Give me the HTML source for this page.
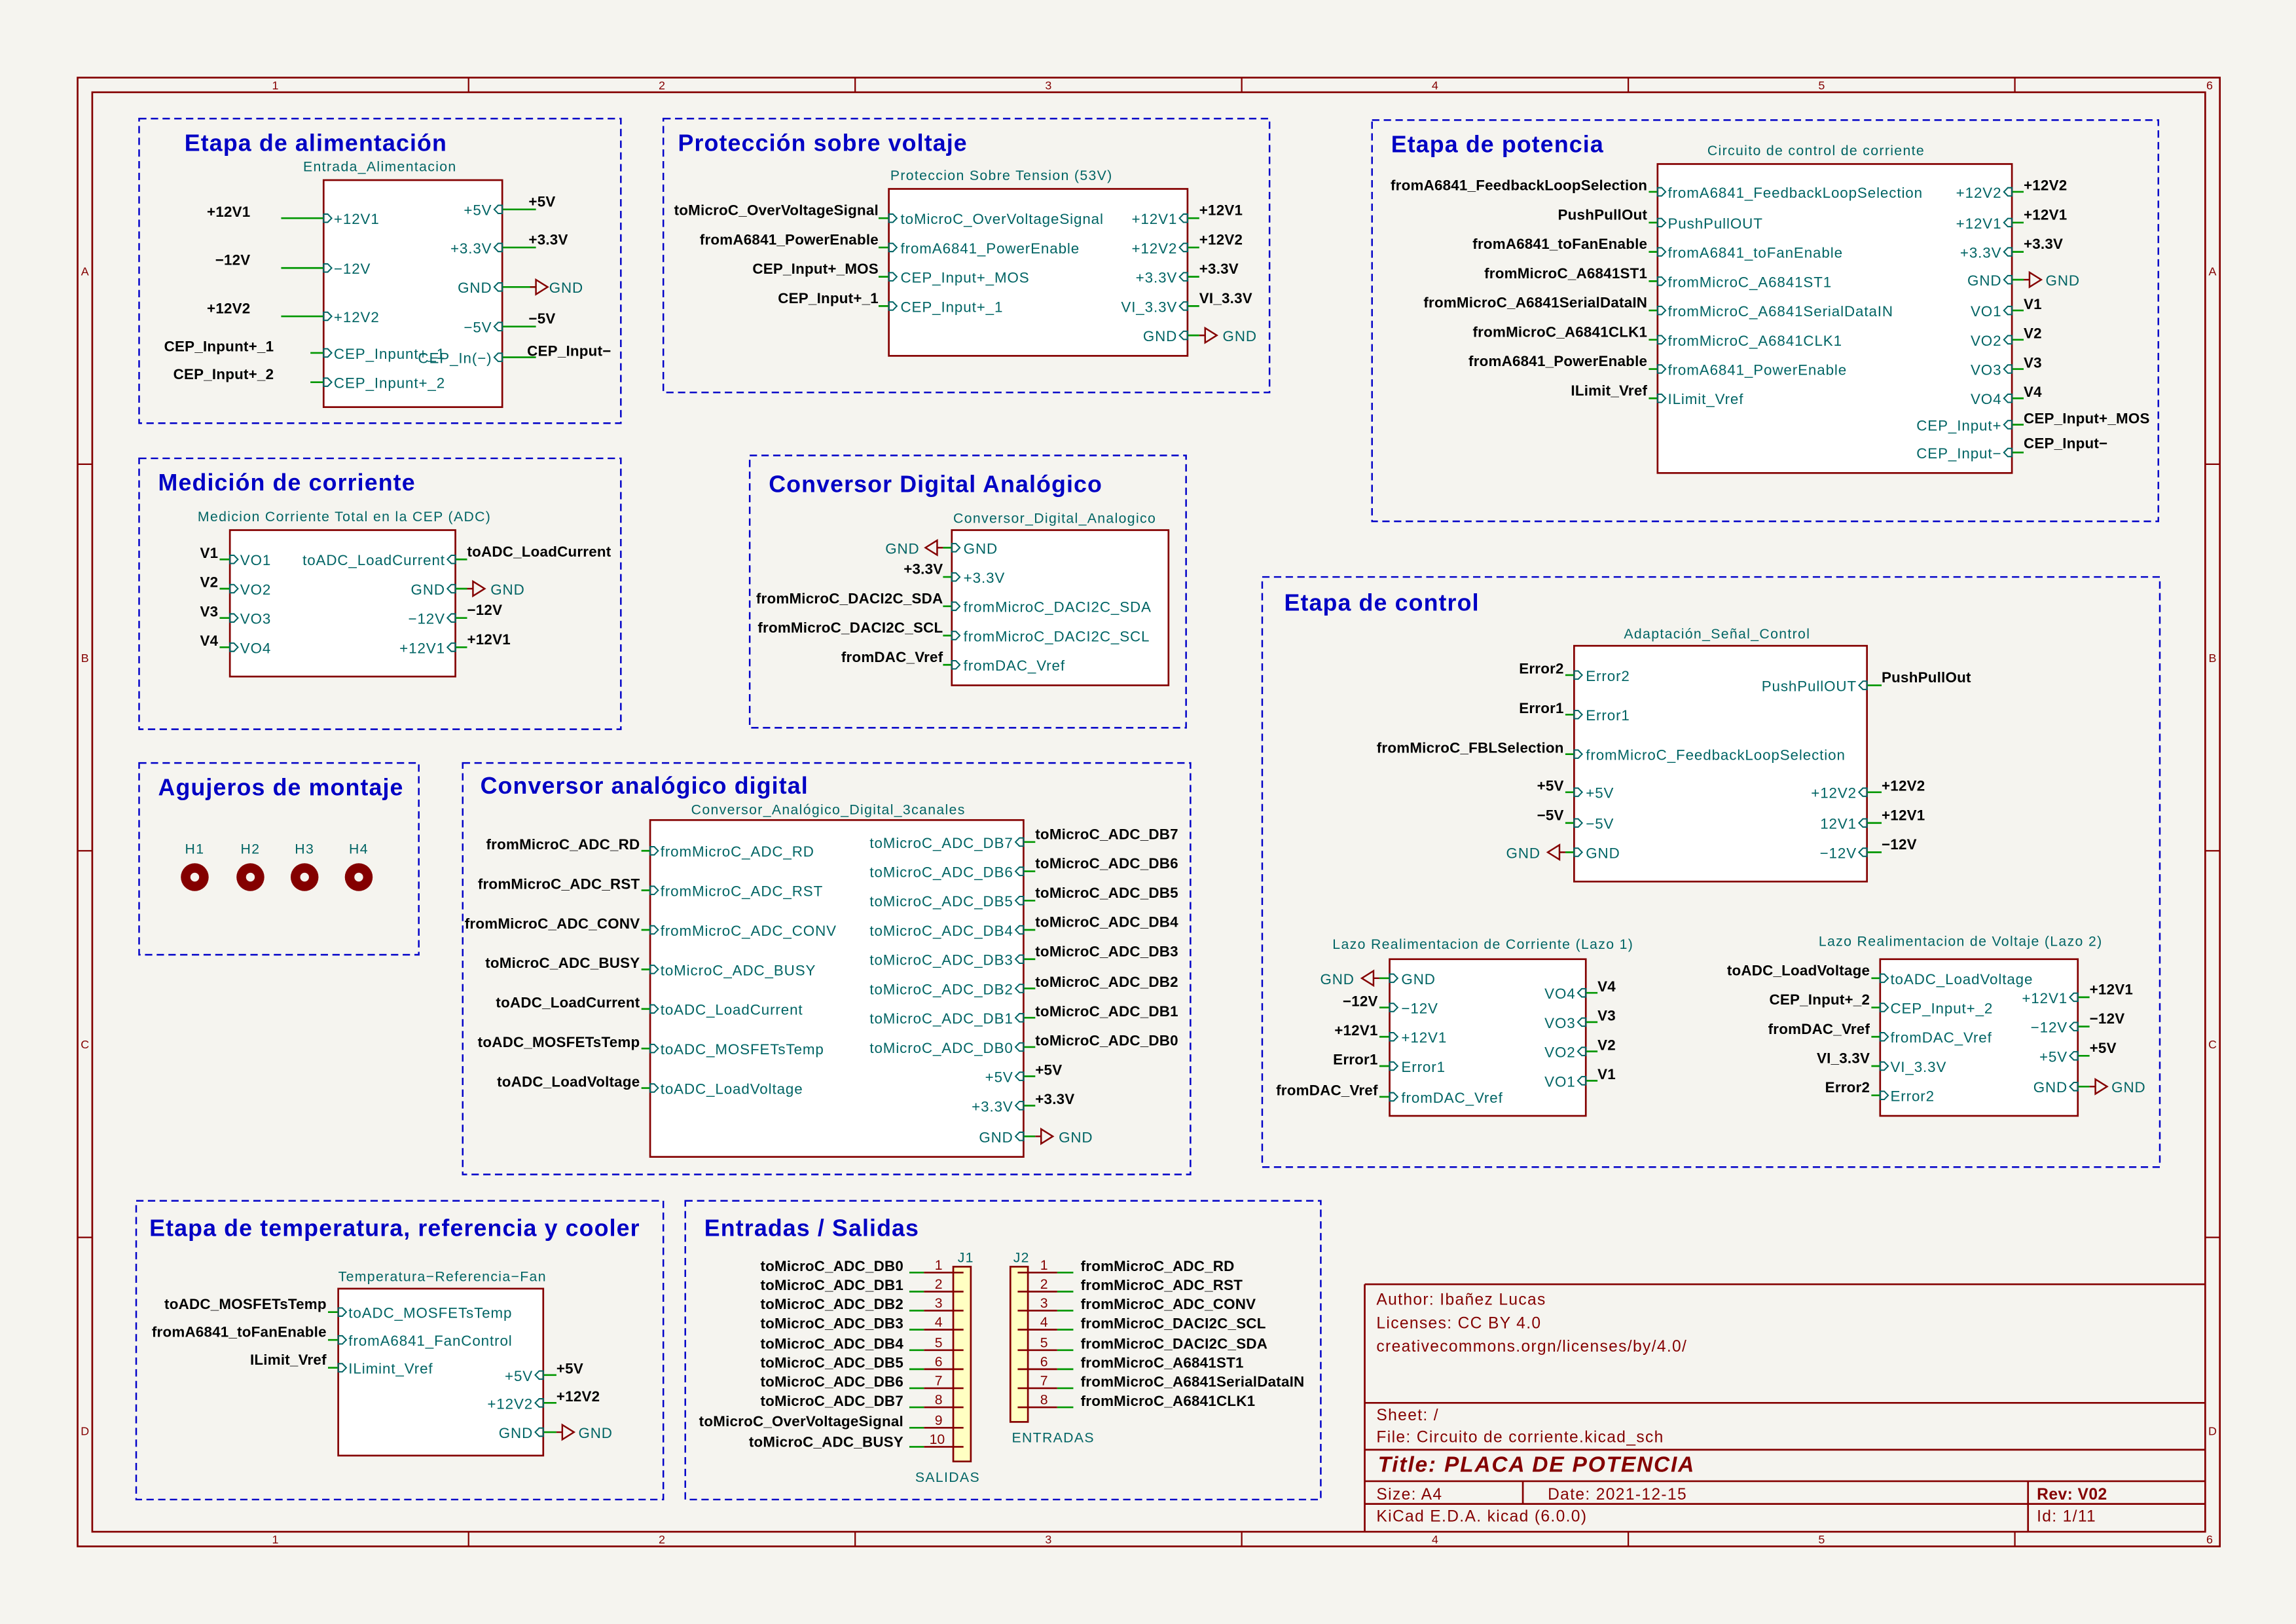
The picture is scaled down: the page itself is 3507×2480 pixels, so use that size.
<!DOCTYPE html>
<html><head><meta charset="utf-8"><style>
html,body{margin:0;padding:0;background:#f5f4ef;}
svg{display:block;}
text{font-family:"Liberation Sans Narrow","Liberation Sans",sans-serif;}
.p{fill:#006464;font-size:10px;letter-spacing:0.4px;}
.n{fill:#000;font-size:10px;font-weight:bold;letter-spacing:0.1px;}
.t{fill:#0000c4;font-size:16px;font-weight:bold;letter-spacing:0.5px;}
.s{fill:#006464;font-size:9.5px;letter-spacing:0.6px;}
.f{fill:#840000;font-size:11px;letter-spacing:0.6px;}
.d{fill:none;stroke:#0000c8;stroke-width:1.1;stroke-dasharray:5,3;}
.b{fill:#fff;stroke:#840000;stroke-width:1.2;}
.w{stroke:#009600;stroke-width:1.2;}
.r{stroke:#840000;stroke-width:1.2;}
.e{text-anchor:end;}
</style></head><body>
<svg width="3507" height="2480" viewBox="0 0 1568 1109" preserveAspectRatio="none" xmlns="http://www.w3.org/2000/svg">
<defs>
<path id="L" d="M0,-2.8h2.8l2.7,2.8l-2.7,2.8h-2.8z" fill="none" stroke="#006464" stroke-width="0.9"/>
<path id="R" d="M0,-2.8h-2.8l-2.7,2.8l2.7,2.8h2.8z" fill="none" stroke="#006464" stroke-width="0.9"/>
<path id="G" d="M0,0h4M4,-5l8,5l-8,5z" fill="none" stroke="#840000" stroke-width="1.1"/>
<path id="GL" d="M0,0h-4M-4,-5l-8,5l8,5z" fill="none" stroke="#840000" stroke-width="1.1"/>
</defs>
<rect width="1568" height="1109" fill="#f5f4ef"/>
<!-- frame -->
<rect x="53" y="53" width="1463" height="1003" fill="none" stroke="#840000" stroke-width="1.2"/>
<rect x="63" y="63" width="1443" height="983" fill="none" stroke="#840000" stroke-width="1.2"/>
<g stroke="#840000" stroke-width="1">
<path d="M320,53v10M584,53v10M848,53v10M1112,53v10M1376,53v10M320,1046v10M584,1046v10M848,1046v10M1112,1046v10M1376,1046v10M53,317h10M53,581h10M53,845h10M1506,317h10M1506,581h10M1506,845h10"/>
</g>
<g class="f" style="font-size:8px;letter-spacing:0" text-anchor="middle">
<text x="188" y="61">1</text><text x="452" y="61">2</text><text x="716" y="61">3</text><text x="980" y="61">4</text><text x="1244" y="61">5</text><text x="1509" y="61">6</text>
<text x="188" y="1054">1</text><text x="452" y="1054">2</text><text x="716" y="1054">3</text><text x="980" y="1054">4</text><text x="1244" y="1054">5</text><text x="1509" y="1054">6</text>
<text x="58" y="188">A</text><text x="58" y="452">B</text><text x="58" y="716">C</text><text x="58" y="980">D</text>
<text x="1511" y="188">A</text><text x="1511" y="452">B</text><text x="1511" y="716">C</text><text x="1511" y="980">D</text>
</g>
<!-- title block -->
<g stroke="#840000" stroke-width="1.2" fill="none">
<path d="M932,877H1506M932,958H1506M932,990H1506M932,1011.5H1506M932,1027H1506M932,877V1046M1040,1011.5V1027M1385,1011.5V1046"/>
</g>
<g class="f">
<text x="940" y="891">Author: Ibañez Lucas</text>
<text x="940" y="907">Licenses: CC BY 4.0</text>
<text x="940" y="923">creativecommons.orgn/licenses/by/4.0/</text>
<text x="940" y="970">Sheet: /</text>
<text x="940" y="985">File: Circuito de corriente.kicad_sch</text>
<text x="941" y="1005" style="font-size:15px;font-weight:bold;font-style:italic;letter-spacing:0.8px">Title: PLACA DE POTENCIA</text>
<text x="940" y="1024">Size: A4</text>
<text x="1057" y="1024">Date: 2021-12-15</text>
<text x="1391" y="1024" style="font-weight:bold;font-size:11px;letter-spacing:0.2px">Rev: V02</text>
<text x="940" y="1039">KiCad E.D.A.  kicad (6.0.0)</text>
<text x="1391" y="1039">Id: 1/11</text>
</g>

<!-- ===== Section 1: Etapa de alimentacion ===== -->
<rect class="d" x="95" y="81" width="329" height="208"/>
<text class="t" x="126" y="103">Etapa de alimentación</text>
<text class="s" x="207" y="117">Entrada_Alimentacion</text>
<rect class="b" x="221" y="123" width="122" height="155"/>
<path class="w" d="M192,149H221M192,183H221M192,216H221M212,241H221M212,261H221M343,143H366M343,169H366M343,196H366M343,223H366M343,244H366"/>
<g class="n e">
<text x="171" y="148">+12V1</text><text x="171" y="181">−12V</text><text x="171" y="214">+12V2</text>
<text x="187" y="240">CEP_Inpunt+_1</text><text x="187" y="259">CEP_Input+_2</text>
</g>
<use href="#L" x="221" y="149"/><use href="#L" x="221" y="183"/><use href="#L" x="221" y="216"/><use href="#L" x="221" y="241"/><use href="#L" x="221" y="261"/>
<g class="p"><text x="228" y="153">+12V1</text><text x="228" y="187">−12V</text><text x="228" y="220">+12V2</text><text x="228" y="245">CEP_Inpunt+_1</text><text x="228" y="265">CEP_Inpunt+_2</text></g>
<use href="#R" x="343" y="143"/><use href="#R" x="343" y="169"/><use href="#R" x="343" y="196"/><use href="#R" x="343" y="223"/><use href="#R" x="343" y="244"/>
<g class="p e"><text x="336" y="147">+5V</text><text x="336" y="173">+3.3V</text><text x="336" y="200">GND</text><text x="336" y="227">−5V</text><text x="336" y="248">CEP_In(−)</text></g>
<g class="n"><text x="361" y="141">+5V</text><text x="361" y="167">+3.3V</text><text x="361" y="221">−5V</text><text x="360" y="243">CEP_Input−</text></g>
<use href="#G" x="362" y="196"/><text class="p" x="375" y="200">GND</text>

<!-- ===== Section 2: Proteccion ===== -->
<rect class="d" x="453" y="81" width="414" height="187"/>
<text class="t" x="463" y="103">Protección sobre voltaje</text>
<text class="s" x="608" y="123">Proteccion Sobre Tension (53V)</text>
<rect class="b" x="607" y="129" width="204" height="114"/>
<path class="w" d="M600,149H607M600,169H607M600,189H607M600,209H607M811,149H819M811,169H819M811,189H819M811,209H819M811,229H819"/>
<g class="n e"><text x="600" y="147">toMicroC_OverVoltageSignal</text><text x="600" y="167">fromA6841_PowerEnable</text><text x="600" y="187">CEP_Input+_MOS</text><text x="600" y="207">CEP_Input+_1</text></g>
<use href="#L" x="607" y="149"/><use href="#L" x="607" y="169"/><use href="#L" x="607" y="189"/><use href="#L" x="607" y="209"/>
<g class="p"><text x="615" y="153">toMicroC_OverVoltageSignal</text><text x="615" y="173">fromA6841_PowerEnable</text><text x="615" y="193">CEP_Input+_MOS</text><text x="615" y="213">CEP_Input+_1</text></g>
<use href="#R" x="811" y="149"/><use href="#R" x="811" y="169"/><use href="#R" x="811" y="189"/><use href="#R" x="811" y="209"/><use href="#R" x="811" y="229"/>
<g class="p e"><text x="804" y="153">+12V1</text><text x="804" y="173">+12V2</text><text x="804" y="193">+3.3V</text><text x="804" y="213">VI_3.3V</text><text x="804" y="233">GND</text></g>
<g class="n"><text x="819" y="147">+12V1</text><text x="819" y="167">+12V2</text><text x="819" y="187">+3.3V</text><text x="819" y="207">VI_3.3V</text></g>
<use href="#G" x="819" y="229"/><text class="p" x="835" y="233">GND</text>

<!-- ===== Section 3: Etapa de potencia ===== -->
<rect class="d" x="937" y="82" width="537" height="274"/>
<text class="t" x="950" y="104">Etapa de potencia</text>
<text class="s" x="1166" y="106">Circuito de control de corriente</text>
<rect class="b" x="1132" y="112" width="242" height="211"/>
<path class="w" d="M1126,131H1132M1126,152H1132M1126,172H1132M1126,192H1132M1126,212H1132M1126,232H1132M1126,252H1132M1126,272H1132M1374,131H1382M1374,152H1382M1374,172H1382M1374,191H1382M1374,212H1382M1374,232H1382M1374,252H1382M1374,272H1382M1374,290H1382M1374,309H1382"/>
<g class="n e"><text x="1125" y="130">fromA6841_FeedbackLoopSelection</text><text x="1125" y="150">PushPullOut</text><text x="1125" y="170">fromA6841_toFanEnable</text><text x="1125" y="190">fromMicroC_A6841ST1</text><text x="1125" y="210">fromMicroC_A6841SerialDataIN</text><text x="1125" y="230">fromMicroC_A6841CLK1</text><text x="1125" y="250">fromA6841_PowerEnable</text><text x="1125" y="270">ILimit_Vref</text></g>
<use href="#L" x="1132" y="131"/><use href="#L" x="1132" y="152"/><use href="#L" x="1132" y="172"/><use href="#L" x="1132" y="192"/><use href="#L" x="1132" y="212"/><use href="#L" x="1132" y="232"/><use href="#L" x="1132" y="252"/><use href="#L" x="1132" y="272"/>
<g class="p"><text x="1139" y="135">fromA6841_FeedbackLoopSelection</text><text x="1139" y="156">PushPullOUT</text><text x="1139" y="176">fromA6841_toFanEnable</text><text x="1139" y="196">fromMicroC_A6841ST1</text><text x="1139" y="216">fromMicroC_A6841SerialDataIN</text><text x="1139" y="236">fromMicroC_A6841CLK1</text><text x="1139" y="256">fromA6841_PowerEnable</text><text x="1139" y="276">ILimit_Vref</text></g>
<use href="#R" x="1374" y="131"/><use href="#R" x="1374" y="152"/><use href="#R" x="1374" y="172"/><use href="#R" x="1374" y="191"/><use href="#R" x="1374" y="212"/><use href="#R" x="1374" y="232"/><use href="#R" x="1374" y="252"/><use href="#R" x="1374" y="272"/><use href="#R" x="1374" y="290"/><use href="#R" x="1374" y="309"/>
<g class="p e"><text x="1367" y="135">+12V2</text><text x="1367" y="156">+12V1</text><text x="1367" y="176">+3.3V</text><text x="1367" y="195">GND</text><text x="1367" y="216">VO1</text><text x="1367" y="236">VO2</text><text x="1367" y="256">VO3</text><text x="1367" y="276">VO4</text><text x="1367" y="294">CEP_Input+</text><text x="1367" y="313">CEP_Input−</text></g>
<g class="n"><text x="1382" y="130">+12V2</text><text x="1382" y="150">+12V1</text><text x="1382" y="170">+3.3V</text><text x="1382" y="211">V1</text><text x="1382" y="231">V2</text><text x="1382" y="251">V3</text><text x="1382" y="271">V4</text><text x="1382" y="289">CEP_Input+_MOS</text><text x="1382" y="306">CEP_Input−</text></g>
<use href="#G" x="1382" y="191"/><text class="p" x="1397" y="195">GND</text>

<!-- ===== Section 4: Medicion ===== -->
<rect class="d" x="95" y="313" width="329" height="185"/>
<text class="t" x="108" y="335">Medición de corriente</text>
<text class="s" x="135" y="356">Medicion Corriente Total en la CEP (ADC)</text>
<rect class="b" x="157" y="362" width="154" height="100"/>
<path class="w" d="M150,382H157M150,402H157M150,422H157M150,442H157M311,382H319M311,402H319M311,422H319M311,442H319"/>
<g class="n e"><text x="149" y="381">V1</text><text x="149" y="401">V2</text><text x="149" y="421">V3</text><text x="149" y="441">V4</text></g>
<use href="#L" x="157" y="382"/><use href="#L" x="157" y="402"/><use href="#L" x="157" y="422"/><use href="#L" x="157" y="442"/>
<g class="p"><text x="164" y="386">VO1</text><text x="164" y="406">VO2</text><text x="164" y="426">VO3</text><text x="164" y="446">VO4</text></g>
<use href="#R" x="311" y="382"/><use href="#R" x="311" y="402"/><use href="#R" x="311" y="422"/><use href="#R" x="311" y="442"/>
<g class="p e"><text x="304" y="386">toADC_LoadCurrent</text><text x="304" y="406">GND</text><text x="304" y="426">−12V</text><text x="304" y="446">+12V1</text></g>
<g class="n"><text x="319" y="380">toADC_LoadCurrent</text><text x="319" y="420">−12V</text><text x="319" y="440">+12V1</text></g>
<use href="#G" x="319" y="402"/><text class="p" x="335" y="406">GND</text>

<!-- ===== Section 5: DAC ===== -->
<rect class="d" x="512" y="311" width="298" height="186"/>
<text class="t" x="525" y="336">Conversor Digital Analógico</text>
<text class="s" x="651" y="357">Conversor_Digital_Analogico</text>
<rect class="b" x="650" y="362" width="148" height="106"/>
<path class="w" d="M644,374H650M644,394H650M644,414H650M644,434H650M644,454H650"/>
<use href="#GL" x="644" y="374"/><text class="p e" x="628" y="378">GND</text>
<g class="n e"><text x="644" y="392">+3.3V</text><text x="644" y="412">fromMicroC_DACI2C_SDA</text><text x="644" y="432">fromMicroC_DACI2C_SCL</text><text x="644" y="452">fromDAC_Vref</text></g>
<use href="#L" x="650" y="374"/><use href="#L" x="650" y="394"/><use href="#L" x="650" y="414"/><use href="#L" x="650" y="434"/><use href="#L" x="650" y="454"/>
<g class="p"><text x="658" y="378">GND</text><text x="658" y="398">+3.3V</text><text x="658" y="418">fromMicroC_DACI2C_SDA</text><text x="658" y="438">fromMicroC_DACI2C_SCL</text><text x="658" y="458">fromDAC_Vref</text></g>

<!-- ===== Section 6: Agujeros ===== -->
<rect class="d" x="95" y="521" width="191" height="131"/>
<text class="t" x="108" y="543">Agujeros de montaje</text>
<g class="s" text-anchor="middle"><text x="133" y="583">H1</text><text x="171" y="583">H2</text><text x="208" y="583">H3</text><text x="245" y="583">H4</text></g>
<g fill="#840000"><circle cx="133" cy="599" r="9.5"/><circle cx="171" cy="599" r="9.5"/><circle cx="208" cy="599" r="9.5"/><circle cx="245" cy="599" r="9.5"/></g>
<g fill="#f5f4ef"><circle cx="133" cy="599" r="3"/><circle cx="171" cy="599" r="3"/><circle cx="208" cy="599" r="3"/><circle cx="245" cy="599" r="3"/></g>

<!-- ===== Section 7: ADC ===== -->
<rect class="d" x="316" y="521" width="497" height="281"/>
<text class="t" x="328" y="542">Conversor analógico digital</text>
<text class="s" x="472" y="556">Conversor_Analógico_Digital_3canales</text>
<rect class="b" x="444" y="560" width="255" height="230"/>
<path class="w" d="M438,581H444M438,608H444M438,635H444M438,662H444M438,689H444M438,716H444M438,743H444M699,575H707M699,595H707M699,615H707M699,635H707M699,655H707M699,675H707M699,695H707M699,715H707M699,735H707M699,755H707M699,776H707"/>
<g class="n e"><text x="437" y="580">fromMicroC_ADC_RD</text><text x="437" y="607">fromMicroC_ADC_RST</text><text x="437" y="634">fromMicroC_ADC_CONV</text><text x="437" y="661">toMicroC_ADC_BUSY</text><text x="437" y="688">toADC_LoadCurrent</text><text x="437" y="715">toADC_MOSFETsTemp</text><text x="437" y="742">toADC_LoadVoltage</text></g>
<use href="#L" x="444" y="581"/><use href="#L" x="444" y="608"/><use href="#L" x="444" y="635"/><use href="#L" x="444" y="662"/><use href="#L" x="444" y="689"/><use href="#L" x="444" y="716"/><use href="#L" x="444" y="743"/>
<g class="p"><text x="451" y="585">fromMicroC_ADC_RD</text><text x="451" y="612">fromMicroC_ADC_RST</text><text x="451" y="639">fromMicroC_ADC_CONV</text><text x="451" y="666">toMicroC_ADC_BUSY</text><text x="451" y="693">toADC_LoadCurrent</text><text x="451" y="720">toADC_MOSFETsTemp</text><text x="451" y="747">toADC_LoadVoltage</text></g>
<use href="#R" x="699" y="575"/><use href="#R" x="699" y="595"/><use href="#R" x="699" y="615"/><use href="#R" x="699" y="635"/><use href="#R" x="699" y="655"/><use href="#R" x="699" y="675"/><use href="#R" x="699" y="695"/><use href="#R" x="699" y="715"/><use href="#R" x="699" y="735"/><use href="#R" x="699" y="755"/><use href="#R" x="699" y="776"/>
<g class="p e"><text x="692" y="579">toMicroC_ADC_DB7</text><text x="692" y="599">toMicroC_ADC_DB6</text><text x="692" y="619">toMicroC_ADC_DB5</text><text x="692" y="639">toMicroC_ADC_DB4</text><text x="692" y="659">toMicroC_ADC_DB3</text><text x="692" y="679">toMicroC_ADC_DB2</text><text x="692" y="699">toMicroC_ADC_DB1</text><text x="692" y="719">toMicroC_ADC_DB0</text><text x="692" y="739">+5V</text><text x="692" y="759">+3.3V</text><text x="692" y="780">GND</text></g>
<g class="n"><text x="707" y="573">toMicroC_ADC_DB7</text><text x="707" y="593">toMicroC_ADC_DB6</text><text x="707" y="613">toMicroC_ADC_DB5</text><text x="707" y="633">toMicroC_ADC_DB4</text><text x="707" y="653">toMicroC_ADC_DB3</text><text x="707" y="674">toMicroC_ADC_DB2</text><text x="707" y="694">toMicroC_ADC_DB1</text><text x="707" y="714">toMicroC_ADC_DB0</text><text x="707" y="734">+5V</text><text x="707" y="754">+3.3V</text></g>
<use href="#G" x="707" y="776"/><text class="p" x="723" y="780">GND</text>

<!-- ===== Section 8: Etapa de control ===== -->
<rect class="d" x="862" y="394" width="613" height="403"/>
<text class="t" x="877" y="417">Etapa de control</text>
<text class="s" x="1109" y="436">Adaptación_Señal_Control</text>
<rect class="b" x="1075" y="441" width="200" height="161"/>
<path class="w" d="M1069,461H1075M1069,488H1075M1069,515H1075M1069,541H1075M1069,562H1075M1069,582H1075M1275,468H1285M1275,541H1285M1275,562H1285M1275,582H1285"/>
<g class="n e"><text x="1068" y="460">Error2</text><text x="1068" y="487">Error1</text><text x="1068" y="514">fromMicroC_FBLSelection</text><text x="1068" y="540">+5V</text><text x="1068" y="560">−5V</text></g>
<use href="#GL" x="1069" y="582"/><text class="p e" x="1052" y="586">GND</text>
<use href="#L" x="1075" y="461"/><use href="#L" x="1075" y="488"/><use href="#L" x="1075" y="515"/><use href="#L" x="1075" y="541"/><use href="#L" x="1075" y="562"/><use href="#L" x="1075" y="582"/>
<g class="p"><text x="1083" y="465">Error2</text><text x="1083" y="492">Error1</text><text x="1083" y="519">fromMicroC_FeedbackLoopSelection</text><text x="1083" y="545">+5V</text><text x="1083" y="566">−5V</text><text x="1083" y="586">GND</text></g>
<use href="#R" x="1275" y="468"/><use href="#R" x="1275" y="541"/><use href="#R" x="1275" y="562"/><use href="#R" x="1275" y="582"/>
<g class="p e"><text x="1268" y="472">PushPullOUT</text><text x="1268" y="545">+12V2</text><text x="1268" y="566">12V1</text><text x="1268" y="586">−12V</text></g>
<g class="n"><text x="1285" y="466">PushPullOut</text><text x="1285" y="540">+12V2</text><text x="1285" y="560">+12V1</text><text x="1285" y="580">−12V</text></g>

<!-- Lazo 1 -->
<text class="s" x="910" y="648">Lazo Realimentacion de Corriente (Lazo 1)</text>
<rect class="b" x="949" y="655" width="134" height="107"/>
<path class="w" d="M942,668H949M942,688H949M942,708H949M942,728H949M942,749H949M1083,678H1091M1083,698H1091M1083,718H1091M1083,738H1091"/>
<use href="#GL" x="942" y="668"/><text class="p e" x="925" y="672">GND</text>
<g class="n e"><text x="941" y="687">−12V</text><text x="941" y="707">+12V1</text><text x="941" y="727">Error1</text><text x="941" y="748">fromDAC_Vref</text></g>
<use href="#L" x="949" y="668"/><use href="#L" x="949" y="688"/><use href="#L" x="949" y="708"/><use href="#L" x="949" y="728"/><use href="#L" x="949" y="749"/>
<g class="p"><text x="957" y="672">GND</text><text x="957" y="692">−12V</text><text x="957" y="712">+12V1</text><text x="957" y="732">Error1</text><text x="957" y="753">fromDAC_Vref</text></g>
<use href="#R" x="1083" y="678"/><use href="#R" x="1083" y="698"/><use href="#R" x="1083" y="718"/><use href="#R" x="1083" y="738"/>
<g class="p e"><text x="1076" y="682">VO4</text><text x="1076" y="702">VO3</text><text x="1076" y="722">VO2</text><text x="1076" y="742">VO1</text></g>
<g class="n"><text x="1091" y="677">V4</text><text x="1091" y="697">V3</text><text x="1091" y="717">V2</text><text x="1091" y="737">V1</text></g>

<!-- Lazo 2 -->
<text class="s" x="1242" y="646">Lazo Realimentacion de Voltaje (Lazo 2)</text>
<rect class="b" x="1284" y="655" width="135" height="107"/>
<path class="w" d="M1278,668H1284M1278,688H1284M1278,708H1284M1278,728H1284M1278,748H1284M1419,681H1427M1419,701H1427M1419,721H1427M1419,742H1427"/>
<g class="n e"><text x="1277" y="666">toADC_LoadVoltage</text><text x="1277" y="686">CEP_Input+_2</text><text x="1277" y="706">fromDAC_Vref</text><text x="1277" y="726">VI_3.3V</text><text x="1277" y="746">Error2</text></g>
<use href="#L" x="1284" y="668"/><use href="#L" x="1284" y="688"/><use href="#L" x="1284" y="708"/><use href="#L" x="1284" y="728"/><use href="#L" x="1284" y="748"/>
<g class="p"><text x="1291" y="672">toADC_LoadVoltage</text><text x="1291" y="692">CEP_Input+_2</text><text x="1291" y="712">fromDAC_Vref</text><text x="1291" y="732">VI_3.3V</text><text x="1291" y="752">Error2</text></g>
<use href="#R" x="1419" y="681"/><use href="#R" x="1419" y="701"/><use href="#R" x="1419" y="721"/><use href="#R" x="1419" y="742"/>
<g class="p e"><text x="1412" y="685">+12V1</text><text x="1412" y="705">−12V</text><text x="1412" y="725">+5V</text><text x="1412" y="746">GND</text></g>
<g class="n"><text x="1427" y="679">+12V1</text><text x="1427" y="699">−12V</text><text x="1427" y="719">+5V</text></g>
<use href="#G" x="1427" y="742"/><text class="p" x="1442" y="746">GND</text>

<!-- ===== Section 9: temperatura ===== -->
<rect class="d" x="93" y="820" width="360" height="204"/>
<text class="t" x="102" y="844">Etapa de temperatura, referencia y cooler</text>
<text class="s" x="231" y="875">Temperatura−Referencia−Fan</text>
<rect class="b" x="231" y="880" width="140" height="114"/>
<path class="w" d="M224,896H231M224,915H231M224,934H231M371,939H380M371,958H380M371,978H380"/>
<g class="n e"><text x="223" y="894">toADC_MOSFETsTemp</text><text x="223" y="913">fromA6841_toFanEnable</text><text x="223" y="932">ILimit_Vref</text></g>
<use href="#L" x="231" y="896"/><use href="#L" x="231" y="915"/><use href="#L" x="231" y="934"/>
<g class="p"><text x="238" y="900">toADC_MOSFETsTemp</text><text x="238" y="919">fromA6841_FanControl</text><text x="238" y="938">ILimint_Vref</text></g>
<use href="#R" x="371" y="939"/><use href="#R" x="371" y="958"/><use href="#R" x="371" y="978"/>
<g class="p e"><text x="364" y="943">+5V</text><text x="364" y="962">+12V2</text><text x="364" y="982">GND</text></g>
<g class="n"><text x="380" y="938">+5V</text><text x="380" y="957">+12V2</text></g>
<use href="#G" x="380" y="978"/><text class="p" x="395" y="982">GND</text>

<!-- ===== Section 10: Entradas / Salidas ===== -->
<rect class="d" x="468" y="820" width="434" height="204"/>
<text class="t" x="481" y="844">Entradas / Salidas</text>
<text class="s" x="654" y="862">J1</text><text class="s" x="692" y="862">J2</text>
<rect x="651" y="865" width="12" height="133" fill="#ffffc2" stroke="#840000" stroke-width="1.2"/>
<rect x="690" y="865" width="12" height="106" fill="#ffffc2" stroke="#840000" stroke-width="1.2"/>
<g class="w">
<path d="M621,869H631M621,882H631M621,895H631M621,908H631M621,922H631M621,935H631M621,948H631M621,961H631M621,975H631M621,988H631"/>
<path d="M722,869H733M722,882H733M722,895H733M722,908H733M722,922H733M722,935H733M722,948H733M722,961H733"/>
</g>
<g class="r">
<path d="M631,869H658M631,882H658M631,895H658M631,908H658M631,922H658M631,935H658M631,948H658M631,961H658M631,975H658M631,988H658"/>
<path d="M695,869H722M695,882H722M695,895H722M695,908H722M695,922H722M695,935H722M695,948H722M695,961H722"/>
</g>
<g class="f" style="font-size:9.5px;letter-spacing:0" text-anchor="middle">
<text x="641" y="867">1</text><text x="641" y="880">2</text><text x="641" y="893">3</text><text x="641" y="906">4</text><text x="641" y="920">5</text><text x="641" y="933">6</text><text x="641" y="946">7</text><text x="641" y="959">8</text><text x="641" y="973">9</text><text x="640" y="986">10</text>
<text x="713" y="867">1</text><text x="713" y="880">2</text><text x="713" y="893">3</text><text x="713" y="906">4</text><text x="713" y="920">5</text><text x="713" y="933">6</text><text x="713" y="946">7</text><text x="713" y="959">8</text>
</g>
<g class="n e"><text x="617" y="868">toMicroC_ADC_DB0</text><text x="617" y="881">toMicroC_ADC_DB1</text><text x="617" y="894">toMicroC_ADC_DB2</text><text x="617" y="907">toMicroC_ADC_DB3</text><text x="617" y="921">toMicroC_ADC_DB4</text><text x="617" y="934">toMicroC_ADC_DB5</text><text x="617" y="947">toMicroC_ADC_DB6</text><text x="617" y="960">toMicroC_ADC_DB7</text><text x="617" y="974">toMicroC_OverVoltageSignal</text><text x="617" y="988">toMicroC_ADC_BUSY</text></g>
<g class="n"><text x="738" y="868">fromMicroC_ADC_RD</text><text x="738" y="881">fromMicroC_ADC_RST</text><text x="738" y="894">fromMicroC_ADC_CONV</text><text x="738" y="907">fromMicroC_DACI2C_SCL</text><text x="738" y="921">fromMicroC_DACI2C_SDA</text><text x="738" y="934">fromMicroC_A6841ST1</text><text x="738" y="947">fromMicroC_A6841SerialDataIN</text><text x="738" y="960">fromMicroC_A6841CLK1</text></g>
<text class="s" x="625" y="1012">SALIDAS</text>
<text class="s" x="691" y="985">ENTRADAS</text>
</svg>
</body></html>
